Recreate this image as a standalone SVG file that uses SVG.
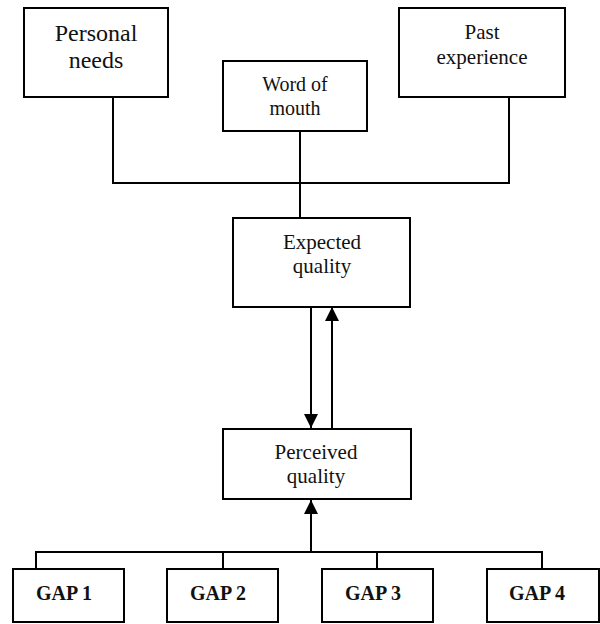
<svg xmlns="http://www.w3.org/2000/svg" width="600" height="624" viewBox="0 0 600 624">
<style>
.box{fill:#fff;stroke:#000;stroke-width:2}
.t{font-family:"Liberation Serif","Times New Roman",serif;font-size:21px;fill:#111;text-anchor:middle}
.b{font-weight:bold;font-size:20px}
.c{fill:none;stroke:#000;stroke-width:2}
</style>
<defs>
<marker id="ah" viewBox="0 0 14 14" refX="14" refY="7" markerWidth="14" markerHeight="14" markerUnits="userSpaceOnUse" orient="auto">
<path d="M0,0 L14,7 L0,14 Z" fill="#000"/>
</marker>
</defs>
<g id="connectors">
<polyline class="c" points="113,97 113,183 509,183 509,97"/>
<line class="c" x1="300" y1="131" x2="300" y2="218"/>
<line class="c" x1="311" y1="307" x2="311" y2="428" marker-end="url(#ah)"/>
<line class="c" x1="332" y1="428" x2="332" y2="307" marker-end="url(#ah)"/>
<line class="c" x1="311" y1="552" x2="311" y2="500" marker-end="url(#ah)"/>
<polyline class="c" points="36,569 36,552 542,552 542,569"/>
<line class="c" x1="223" y1="552" x2="223" y2="569"/>
<line class="c" x1="377" y1="552" x2="377" y2="569"/>
</g>
<g id="personal-needs">
<rect class="box" x="24" y="8" width="144" height="89"/>
<text class="t" x="96" y="41" style="font-size:24px">Personal</text>
<text class="t" x="96" y="68" style="font-size:24px">needs</text>
</g>
<g id="word-of-mouth">
<rect class="box" x="223" y="61" width="144" height="70"/>
<text class="t" x="295" y="91" style="font-size:20px">Word of</text>
<text class="t" x="295" y="115" style="font-size:20px">mouth</text>
</g>
<g id="past-experience">
<rect class="box" x="399" y="8" width="166" height="89"/>
<text class="t" x="482" y="39">Past</text>
<text class="t" x="482" y="64">experience</text>
</g>
<g id="expected-quality">
<rect class="box" x="233" y="218" width="177" height="89"/>
<text class="t" x="322" y="249">Expected</text>
<text class="t" x="322" y="273">quality</text>
</g>
<g id="perceived-quality">
<rect class="box" x="223" y="429" width="188" height="70"/>
<text class="t" x="316" y="459">Perceived</text>
<text class="t" x="316" y="483">quality</text>
</g>
<g id="gap1">
<rect class="box" x="13" y="569" width="111" height="53"/>
<text class="t b" x="64" y="600">GAP 1</text>
</g>
<g id="gap2">
<rect class="box" x="167" y="569" width="111" height="53"/>
<text class="t b" x="218" y="600">GAP 2</text>
</g>
<g id="gap3">
<rect class="box" x="322" y="569" width="111" height="53"/>
<text class="t b" x="373" y="600">GAP 3</text>
</g>
<g id="gap4">
<rect class="box" x="487" y="569" width="112" height="53"/>
<text class="t b" x="537" y="600">GAP 4</text>
</g>
</svg>
